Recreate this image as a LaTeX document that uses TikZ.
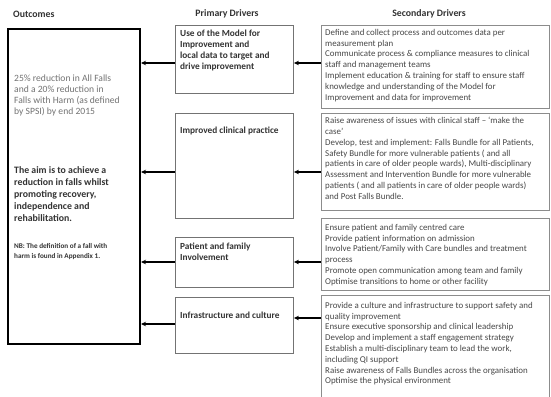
\documentclass[tikz,border=0pt]{standalone}
\usepackage{fontspec}
\setmainfont{Carlito}
\usetikzlibrary{arrows.meta}

\begin{document}
\begin{tikzpicture}[x=1pt,y=-1pt,
  hdr/.style={font=\bfseries\fontsize{9.8}{11}\selectfont, text=black!80, inner sep=0pt},
  outbox/.style={draw=black, line width=2pt, inner sep=0pt, anchor=north west},
  pbox/.style={draw=black!55, line width=0.9pt, inner sep=0pt, anchor=north west},
  sbox/.style={draw=black!45, line width=1.1pt, inner sep=0pt, anchor=north west},
  ptext/.style={font=\bfseries\fontsize{9.3}{10.9}\selectfont, text=black!80, align=left, inner sep=0pt, anchor=north west},
  stext/.style={font=\fontsize{8.9}{10.8}\selectfont, text=black!72, align=left, inner sep=0pt, anchor=north west},
  arr/.style={-{Stealth[length=5pt,width=4.5pt]}, line width=1.5pt, black}
]
\useasboundingbox[fill=white] (0,0) rectangle (551,396);

% column headings
\node[hdr, anchor=west] (hOut) at (13,14) {Outcomes};
\node[hdr] (hPri) at (227,14) {Primary Drivers};
\node[hdr] (hSec) at (429,14) {Secondary Drivers};

% outcome box
\node[outbox, minimum width=132pt, minimum height=315pt] (out) at (7,28) {};
\node[font=\fontsize{9.6}{10.8}\selectfont, text=black!55, align=left, inner sep=0pt, anchor=north west] (aim1) at (14,75)
  {25\% reduction in All Falls\\and a 20\% reduction in\\Falls with Harm (as defined\\by SPSI) by end 2015};
\node[font=\bfseries\fontsize{9.8}{12.2}\selectfont, text=black!80, align=left, inner sep=0pt, anchor=north west] (aim2) at (14,166)
  {The aim is to achieve a\\reduction in falls whilst\\promoting recovery,\\independence and\\rehabilitation.};
\node[font=\bfseries\fontsize{7.2}{10.5}\selectfont, text=black!80, align=left, inner sep=0pt, anchor=north west] (nb) at (14,243)
  {NB: The definition of a fall with\\harm is found in Appendix 1.};

% primary driver boxes
\node[pbox, minimum width=118pt, minimum height=68pt] (p1) at (175,25) {};
\node[pbox, minimum width=118pt, minimum height=105pt] (p2) at (175,113) {};
\node[pbox, minimum width=118pt, minimum height=50pt] (p3) at (175,237) {};
\node[pbox, minimum width=118pt, minimum height=56pt] (p4) at (175,297) {};

\node[ptext] (p1t) at ([xshift=5pt,yshift=-5pt]p1.north west)
  {Use of the Model for\\Improvement and\\local data to target and\\drive improvement};
\node[ptext] (p2t) at ([xshift=5pt,yshift=-14pt]p2.north west) {Improved clinical practice};
\node[ptext] (p3t) at ([xshift=5pt,yshift=-6pt]p3.north west) {Patient and family\\Involvement};
\node[ptext] (p4t) at ([xshift=5pt,yshift=-15pt]p4.north west) {Infrastructure and culture};

% secondary driver boxes
\node[sbox, minimum width=228pt, minimum height=83pt] (s1) at (321,25) {};
\node[sbox, minimum width=228pt, minimum height=97pt] (s2) at (321,113) {};
\node[sbox, minimum width=228pt, minimum height=72pt] (s3) at (321,218) {};
\node[sbox, minimum width=228pt, minimum height=110pt] (s4) at (321,295) {};

\node[stext] (s1t) at ([xshift=4pt,yshift=-4pt]s1.north west)
  {Define and collect process and outcomes data per\\measurement plan\\Communicate process \& compliance measures to clinical\\staff and management teams\\Implement education \& training for staff to ensure staff\\knowledge and understanding of the Model for\\Improvement and data for improvement};
\node[stext] (s2t) at ([xshift=4pt,yshift=-4pt]s2.north west)
  {Raise awareness of issues with clinical staff -- `make the\\case'\\Develop, test and implement: Falls Bundle for all Patients,\\Safety Bundle for more vulnerable patients ( and all\\patients in care of older people wards), Multi-disciplinary\\Assessment and Intervention Bundle for more vulnerable\\patients ( and all patients in care of older people wards)\\and Post Falls Bundle.};
\node[stext] (s3t) at ([xshift=4pt,yshift=-6pt]s3.north west)
  {Ensure patient and family centred care\\Provide patient information on admission\\Involve Patient/Family with Care bundles and treatment\\process\\Promote open communication among team and family\\Optimise transitions to home or other facility};
\node[stext] (s4t) at ([xshift=4pt,yshift=-7pt]s4.north west)
  {Provide a culture and infrastructure to support safety and\\quality improvement\\Ensure executive sponsorship and clinical leadership\\Develop and implement a staff engagement strategy\\Establish a multi-disciplinary team to lead the work,\\including QI support\\Raise awareness of Falls Bundles across the organisation\\Optimise the physical environment};

% connectors: secondary -> primary
\draw[arr] (s1.west |- 0,63) -- (p1.east |- 0,63);
\draw[arr] (s2.west |- 0,172) -- (p2.east |- 0,172);
\draw[arr] (s3.west |- 0,262) -- (p3.east |- 0,262);
\draw[arr] (s4.west |- 0,318) -- (p4.east |- 0,318);

% connectors: primary -> outcome
\draw[arr] (p1.west |- 0,63) -- (out.east |- 0,63);
\draw[arr] (p2.west |- 0,172) -- (out.east |- 0,172);
\draw[arr] (p3.west |- 0,262) -- (out.east |- 0,262);
\draw[arr] (p4.west |- 0,324) -- (out.east |- 0,324);
\end{tikzpicture}
\end{document}
